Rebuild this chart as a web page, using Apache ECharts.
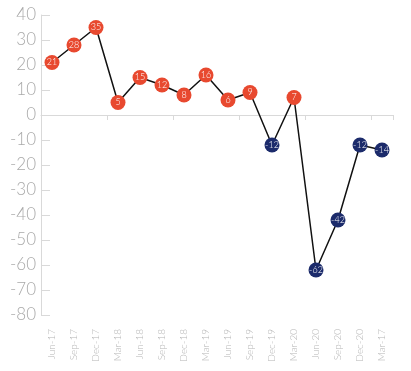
<!DOCTYPE html>
<html><head><meta charset="utf-8">
<script src="https://cdn.jsdelivr.net/npm/echarts@6/dist/echarts.min.js"></script>
<style>html,body{margin:0;padding:0;background:#fff}#c{width:411px;height:371px}</style>
</head><body><div id="c"></div>
<script>
const categories = ['Jun-17','Sep-17','Dec-17','Mar-18','Jun-18','Sep-18','Dec-18','Mar-19','Jun-19','Sep-19','Dec-19','Mar-20','Jun-20','Sep-20','Dec-20','Mar-17'];
const values = [21, 28, 35, 5, 15, 12, 8, 16, 6, 9, -12, 7, -62, -42, -12, -14];
const yTicks = {min: -80, max: 40, interval: 10};

const POS = '#e8492f', NEG = '#1c2b6b';
const chart = echarts.init(document.getElementById('c'));
chart.setOption({
  animation: false,
  grid: {left: 41, right: 18, top: 15, bottom: 56},
  xAxis: [{
    type: 'category', data: categories, position: 'bottom',
    axisLine: {show: true, onZero: true, lineStyle: {color: '#d9d9d9'}},
    axisTick: {show: true, length: 5, lineStyle: {color: '#d9d9d9'}},
    axisLabel: {show: false}
  }, {
    type: 'category', data: categories, position: 'bottom',
    axisLine: {show: false, onZero: false},
    axisTick: {show: false},
    axisLabel: {rotate: 90, margin: 14, color: '#b5b5b5', fontSize: 10, fontFamily: 'Lato', fontWeight: 300}
  }],
  yAxis: {
    type: 'value', min: yTicks.min, max: yTicks.max, interval: yTicks.interval,
    splitLine: {show: false},
    axisLine: {show: true, lineStyle: {color: '#d9d9d9'}},
    axisTick: {show: true, inside: true, length: 9, lineStyle: {color: '#d9d9d9'}},
    axisLabel: {color: '#a9a9a9', fontSize: 17, fontFamily: 'Lato', fontWeight: 300, margin: 5}
  },
  series: [{
    type: 'line', xAxisIndex: 0, data: values,
    symbol: 'none',
    lineStyle: {color: '#111', width: 1.5},
    z: 2
  }, {
    type: 'scatter', xAxisIndex: 0,
    data: values.map(v => ({value: v, itemStyle: {color: v >= 0 ? POS : NEG, opacity: 1}})),
    symbol: 'circle', symbolSize: 15,
    itemStyle: {opacity: 1},
    label: {show: true, position: 'inside', color: '#fff', fontSize: 9, fontFamily: 'Lato', fontWeight: 300},
    z: 3
  }]
});
</script></body></html>
